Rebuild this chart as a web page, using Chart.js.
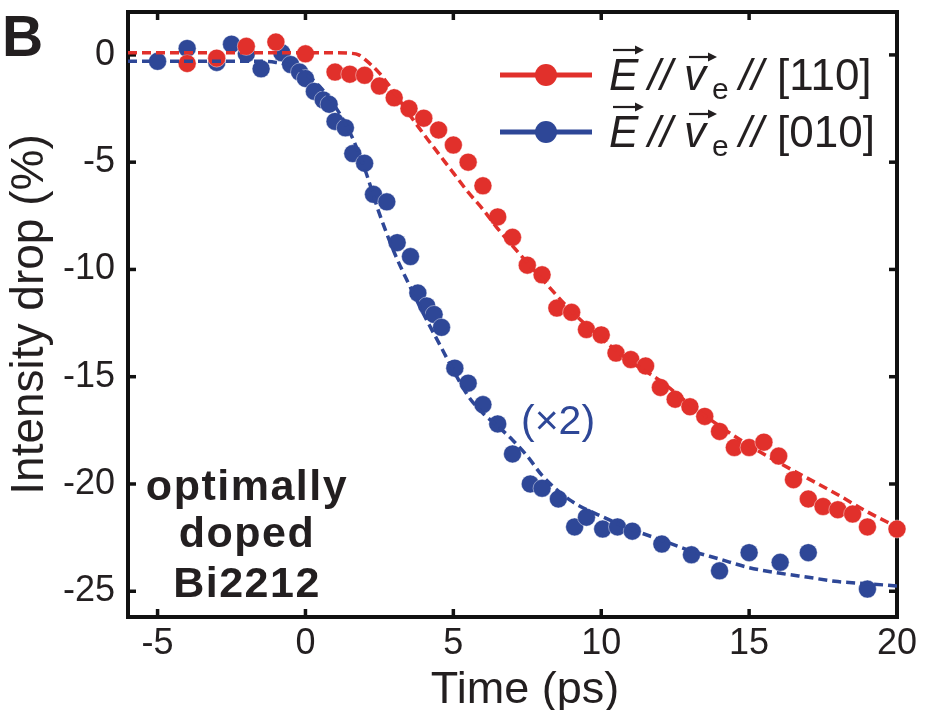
<!DOCTYPE html>
<html>
<head>
<meta charset="utf-8">
<script src="https://cdn.jsdelivr.net/npm/chart.js@4.4.1/dist/chart.umd.min.js"></script>
<style>
  html, body { margin: 0; padding: 0; background: #ffffff; }
  #wrap { width: 925px; height: 710px; position: relative; }
</style>
</head>
<body>
<div id="wrap"><canvas id="c" width="925" height="710"></canvas></div>
<script>
// ---- data ----
const xTicks = [-5, 0, 5, 10, 15, 20];
const yTicks = [0, -5, -10, -15, -20, -25];

const redX = [-4,-3,-2,-1,0,1,1.5,2,2.5,3,3.5,4,4.5,5,5.5,6,6.5,7,7.5,8,8.5,9,9.5,10,10.5,11,11.5,12,12.5,13,13.5,14,14.5,15,15.5,16,16.5,17,17.5,18,18.5,19,20];
const redY = [-0.4,-0.15,0.4,0.6,0.05,-0.8,-0.9,-0.95,-1.45,-2.0,-2.5,-2.95,-3.5,-4.2,-5.0,-6.1,-7.55,-8.5,-9.8,-10.25,-11.8,-12.0,-12.8,-13.05,-13.9,-14.2,-14.5,-15.5,-16.05,-16.4,-16.85,-17.55,-18.3,-18.3,-18.05,-18.7,-19.8,-20.7,-21.05,-21.2,-21.4,-22.0,-22.1];

const blueX = [-5,-4,-3,-2.5,-2,-1.5,-0.8,-0.5,-0.2,0,0.3,0.6,0.8,1.0,1.35,1.6,2.0,2.3,2.75,3.1,3.55,3.8,4.1,4.35,4.6,5.05,5.5,6.0,6.5,7.0,7.6,8.0,8.55,9.1,9.5,10.05,10.55,11.05,12.05,13.05,14.0,15.0,16.05,17.0,19.0];
const blueY = [-0.3,0.3,-0.35,0.5,0.05,-0.65,0.1,-0.45,-0.8,-1.1,-1.7,-2.1,-2.3,-3.1,-3.4,-4.6,-5.05,-6.5,-6.85,-8.75,-9.4,-11.1,-11.7,-12.1,-12.7,-14.6,-15.3,-16.3,-17.2,-18.6,-20.0,-20.2,-20.7,-22.0,-21.55,-22.1,-22.0,-22.2,-22.8,-23.3,-24.05,-23.2,-23.65,-23.2,-24.9];

const redFitX = [-6,1.0,1.5,1.8,2.0,2.5,3,3.5,4,4.5,5,5.5,6,6.5,7,8,9,10,11,12,13,14,15,16,17,18,19,20];
const redFitY = [0.1,0.1,0.08,0.0,-0.2,-0.85,-1.75,-2.75,-3.7,-4.6,-5.5,-6.4,-7.2,-8.1,-8.9,-10.45,-11.95,-13.2,-14.3,-15.2,-16.3,-17.3,-18.2,-19.0,-19.75,-20.5,-21.3,-22.0];

const blueFitX = [-6,-1.5,-1,-0.5,0,0.5,1,1.5,2,2.5,3,3.5,4,4.5,5,5.5,6,6.5,7,7.5,8,9,10,11,12,13,14,15,16,17,18,19,20];
const blueFitY = [-0.3,-0.3,-0.35,-0.5,-0.9,-1.5,-2.4,-3.6,-5.3,-7.4,-9.2,-10.7,-12.1,-13.4,-14.7,-15.9,-16.7,-17.3,-17.95,-18.7,-19.6,-20.8,-21.5,-22.1,-22.6,-23.1,-23.5,-23.9,-24.15,-24.35,-24.55,-24.65,-24.75];

const seriesLabels = ['[110]', '[010]'];
const annotScale = '(\u00d72)';
const sampleLines = ['optimally', 'doped', 'Bi2212'];
const panelLetter = 'B';
const xTitle = 'Time (ps)';
const yTitle = 'Intensity drop (%)';

// ---- styling ----
const RED = '#e1302b';
const BLUE = '#2e4797';
const INK = '#231f20';
const FONT = '"Liberation Sans", Arial, sans-serif';

const pts = (xs, ys) => xs.map((x, i) => ({x: x, y: ys[i]}));

function drawArrow(ctx, x0, x1, y) {
  ctx.save();
  ctx.strokeStyle = INK; ctx.fillStyle = INK; ctx.lineWidth = 2.2;
  ctx.beginPath(); ctx.moveTo(x0, y); ctx.lineTo(x1 - 4, y); ctx.stroke();
  ctx.beginPath(); ctx.moveTo(x1, y); ctx.lineTo(x1 - 9, y - 4.5); ctx.lineTo(x1 - 9, y + 4.5); ctx.closePath(); ctx.fill();
  ctx.restore();
}

const framePlugin = {
  id: 'frame',
  beforeDatasetsDraw(chart) {
    const {ctx, chartArea: a, scales} = chart;
    ctx.save();
    ctx.strokeStyle = '#111'; ctx.lineWidth = 4;
    ctx.strokeRect(a.left, a.top, a.right - a.left, a.bottom - a.top);
    ctx.lineWidth = 3.5;
    const tl = 8;
    xTicks.forEach(v => {
      const px = scales.x.getPixelForValue(v);
      if (px > a.left + 2 && px < a.right - 2) {
        ctx.beginPath(); ctx.moveTo(px, a.bottom); ctx.lineTo(px, a.bottom - tl); ctx.stroke();
        ctx.beginPath(); ctx.moveTo(px, a.top); ctx.lineTo(px, a.top + tl); ctx.stroke();
      }
    });
    yTicks.forEach(v => {
      const py = scales.y.getPixelForValue(v);
      ctx.beginPath(); ctx.moveTo(a.left, py); ctx.lineTo(a.left + tl, py); ctx.stroke();
      ctx.beginPath(); ctx.moveTo(a.right, py); ctx.lineTo(a.right - tl, py); ctx.stroke();
    });
    ctx.restore();
  },
  afterDraw(chart) {
    const {ctx} = chart;
    ctx.save();
    // panel letter
    ctx.fillStyle = INK;
    ctx.font = 'bold 57px ' + FONT;
    ctx.textBaseline = 'alphabetic'; ctx.textAlign = 'left';
    ctx.fillText(panelLetter, 2, 56);

    // x-axis title
    ctx.font = '45px ' + FONT;
    ctx.textAlign = 'center';
    ctx.fillText(xTitle, 525, 703);
    ctx.textAlign = 'left';

    // legend
    const rows = [{y: 75, base: 90, color: RED, label: seriesLabels[0]},
                  {y: 132, base: 147, color: BLUE, label: seriesLabels[1]}];
    rows.forEach(r => {
      ctx.strokeStyle = r.color; ctx.lineWidth = 5;
      ctx.beginPath(); ctx.moveTo(500, r.y); ctx.lineTo(592, r.y); ctx.stroke();
      ctx.fillStyle = r.color;
      ctx.beginPath(); ctx.arc(546, r.y, 11, 0, Math.PI * 2); ctx.fill();
      ctx.fillStyle = INK;
      ctx.textAlign = 'left'; ctx.textBaseline = 'alphabetic';
      ctx.font = 'italic 44px ' + FONT;
      ctx.fillText('E', 609, r.base);
      drawArrow(ctx, 613, 644, r.base - 40);
      ctx.fillText('//', 648, r.base);
      ctx.fillText('v', 684, r.base);
      drawArrow(ctx, 689, 717, r.base - 33);
      ctx.font = '30px ' + FONT;
      ctx.fillText('e', 712, r.base + 9);
      ctx.font = 'italic 44px ' + FONT;
      ctx.fillText('//', 739, r.base);
      ctx.font = '44px ' + FONT;
      ctx.fillText(r.label, 777, r.base);
    });

    // (x2) annotation
    ctx.fillStyle = BLUE;
    ctx.font = '41px ' + FONT;
    ctx.fillText(annotScale, 521, 434);

    // sample label
    ctx.fillStyle = INK;
    ctx.font = 'bold 43px ' + FONT;
    ctx.textAlign = 'center';
    try { ctx.letterSpacing = '1.5px'; } catch (e) {}
    const bases = [500, 547, 597];
    sampleLines.forEach((t, i) => ctx.fillText(t, 247, bases[i]));
    try { ctx.letterSpacing = '0px'; } catch (e) {}
    ctx.restore();
  }
};

new Chart(document.getElementById('c'), {
  type: 'scatter',
  data: {
    datasets: [
      { label: 'fit110', data: pts(redFitX, redFitY), showLine: true, borderColor: RED, borderWidth: 3.5,
        borderDash: [9, 5], pointRadius: 0, cubicInterpolationMode: 'monotone', fill: false },
      { label: 'fit010', data: pts(blueFitX, blueFitY), showLine: true, borderColor: BLUE, borderWidth: 3.5,
        borderDash: [9, 5], pointRadius: 0, cubicInterpolationMode: 'monotone', fill: false },
      { label: seriesLabels[0], data: pts(redX, redY), showLine: false, backgroundColor: RED,
        borderColor: 'rgba(255,255,255,0.55)', borderWidth: 0.8, pointRadius: 9, clip: false },
      { label: seriesLabels[1], data: pts(blueX, blueY), showLine: false, backgroundColor: BLUE,
        borderColor: 'rgba(255,255,255,0.55)', borderWidth: 0.8, pointRadius: 9, clip: false }
    ]
  },
  options: {
    responsive: false,
    animation: false,
    devicePixelRatio: 1,
    layout: { padding: { left: 0, right: 28, top: 12, bottom: 0 } },
    plugins: { legend: { display: false }, tooltip: { enabled: false } },
    elements: { point: { hoverRadius: 9 } },
    scales: {
      x: {
        type: 'linear', min: -6, max: 20,
        grid: { display: false, drawTicks: false }, border: { display: false },
        afterBuildTicks: s => { s.ticks = xTicks.map(v => ({value: v})); },
        afterFit: s => { s.height = 93; s.paddingLeft = 0; s.paddingRight = 0; },
        ticks: { color: INK, font: { family: FONT, size: 36 }, padding: 5, callback: v => String(v), maxRotation: 0 },
        title: { display: false }
      },
      y: {
        type: 'linear', min: -26.2, max: 2,
        grid: { display: false, drawTicks: false }, border: { display: false },
        afterBuildTicks: s => { s.ticks = yTicks.map(v => ({value: v})); },
        afterFit: s => { s.width = 128; s.paddingTop = 0; s.paddingBottom = 0; },
        ticks: { color: INK, font: { family: FONT, size: 36 }, padding: 13, callback: v => String(v) },
        title: { display: true, text: yTitle, color: INK, font: { family: FONT, size: 46 }, padding: { top: 3, bottom: 0 } }
      }
    }
  },
  plugins: [framePlugin]
});
</script>
</body>
</html>
